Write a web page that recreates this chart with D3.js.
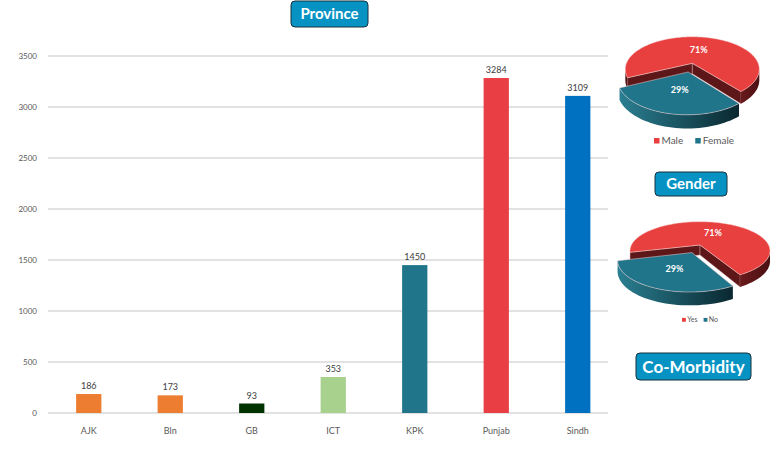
<!DOCTYPE html>
<html>
<head>
<meta charset="utf-8">
<script src="https://cdn.jsdelivr.net/npm/d3@7"></script>
<style>
  body { margin: 0; background: #fff; }
  svg { display: block; font-family: Lato, "Open Sans", sans-serif; }
</style>
</head>
<body>
<svg id="chart" width="781" height="451"></svg>
<script>
// data
const provinces = ["AJK", "Bln", "GB", "ICT", "KPK", "Punjab", "Sindh"];
const cases = [186, 173, 93, 353, 1450, 3284, 3109];
const barColors = ["#ED7D31", "#ED7D31", "#013301", "#A9D18E", "#21758B", "#E93E44", "#0070C0"];
const yTicks = [0, 500, 1000, 1500, 2000, 2500, 3000, 3500];

const genderLabels = ["Male", "Female"];
const genderShares = [71, 29];
const comorbLabels = ["Yes", "No"];
const comorbShares = [71, 29];
const pieColors = ["#E8403F", "#21758B"];

let svg = d3.select("#chart");
let defs = svg.append("defs");

// ---- bar chart ----
let x = d3.scaleBand()
    .domain(provinces)
    .range([48, 618.5])
    .paddingInner(0.69)
    .paddingOuter(0.345);
let y = d3.scaleLinear()
    .domain([0, 3500])
    .range([413, 56]);

svg.append("g")
    .selectAll("line")
    .data(yTicks)
    .enter().append("line")
    .attr("x1", 48)
    .attr("x2", 608)
    .attr("y1", d => y(d))
    .attr("y2", d => y(d))
    .attr("stroke", "#d9d9d9")
    .attr("stroke-width", 1.3);

svg.append("g")
    .selectAll("text")
    .data(yTicks)
    .enter().append("text")
    .attr("x", 37)
    .attr("y", d => y(d))
    .attr("dy", "0.35em")
    .attr("text-anchor", "end")
    .attr("font-size", 8)
    .attr("fill", "#595959")
    .text(d => d);

let bar = svg.selectAll(".bar")
    .data(provinces)
    .enter().append("g")
    .attr("class", "bar");
bar.append("rect")
    .attr("x", d => x(d))
    .attr("y", (d, i) => y(cases[i]))
    .attr("width", x.bandwidth())
    .attr("height", (d, i) => y(0) - y(cases[i]))
    .attr("fill", (d, i) => barColors[i]);
bar.append("text")
    .attr("x", d => x(d) + x.bandwidth() / 2)
    .attr("y", (d, i) => y(cases[i]) - 5)
    .attr("text-anchor", "middle")
    .attr("font-size", 9)
    .attr("fill", "#404040")
    .text((d, i) => cases[i]);
bar.append("text")
    .attr("x", d => x(d) + x.bandwidth() / 2)
    .attr("y", 434)
    .attr("text-anchor", "middle")
    .attr("font-size", 9)
    .attr("fill", "#595959")
    .text(d => d);

// ---- title boxes ----
function titleBox(label, bx, by, bw, bh, size) {
    let g = svg.append("g");
    g.append("rect")
        .attr("x", bx).attr("y", by)
        .attr("width", bw).attr("height", bh)
        .attr("rx", 4)
        .attr("fill", "#0693C4")
        .attr("stroke", "#17323d")
        .attr("stroke-width", 1);
    g.append("text")
        .attr("x", bx + bw / 2)
        .attr("y", by + bh / 2)
        .attr("dy", "0.36em")
        .attr("text-anchor", "middle")
        .attr("font-size", size)
        .attr("font-weight", "bold")
        .attr("fill", "#fff")
        .text(label);
}
titleBox("Province", 291, 1, 77, 26, 15);
titleBox("Gender", 655, 172, 72, 24, 15);
titleBox("Co-Morbidity", 636, 353, 115, 27, 17);

// ---- 3D pies (simple perspective: near side drawn larger) ----
function sideGradient(id, from, to) {
    let lg = defs.append("linearGradient").attr("id", id)
        .attr("x1", "0%").attr("x2", "100%").attr("y1", "0%").attr("y2", "0%");
    lg.append("stop").attr("offset", "0%").attr("stop-color", from);
    lg.append("stop").attr("offset", "100%").attr("stop-color", to);
    return "url(#" + id + ")";
}

function drawPie3D(id, values, o) {
    let g = svg.append("g");
    let arcs = d3.pie().sort(null)
        .startAngle(o.start)
        .endAngle(o.start + 2 * Math.PI)(values);
    let line = d3.line();
    let wallFill = [
        sideGradient(id + "w0", "#6a1a1c", "#4a1012"),
        sideGradient(id + "w1", "#2a7f92", "#0a2830")
    ];
    let cutFill = ["#5e1719", "#123d48"];
    // silhouette of the rim
    let sil = Math.acos(-o.k);

    // u, v on the unit disc (v toward viewer), h = 0 top or 1 bottom
    function proj(u, v, h) {
        let w = 1 - o.k * v;
        return [o.cx + o.sx * u / w, o.cy + (o.sy * v + h * o.depth) / w];
    }
    function rim(a, off, h) {
        return proj(off[0] + Math.sin(a), off[1] - Math.cos(a), h);
    }

    function drawSlice(d, i) {
        let mid = (d.startAngle + d.endAngle) / 2;
        let e = i === o.explode ? o.explodeBy : 0;
        let off = [e * Math.sin(mid), -e * Math.cos(mid)];
        let apexTop = proj(off[0], off[1], 0);
        let apexBot = proj(off[0], off[1], 1);
        // cut faces
        [[d.startAngle, d.startAngle - Math.PI / 2], [d.endAngle, d.endAngle + Math.PI / 2]]
            .forEach(([a, n]) => {
                if (-Math.cos(n) <= 0) return;
                g.append("path")
                    .attr("d", line([apexTop, rim(a, off, 0), rim(a, off, 1), apexBot]) + "Z")
                    .attr("fill", cutFill[i])
                    .attr("stroke", "#e9b9b9")
                    .attr("stroke-width", 0.4);
            });
        // outer wall, visible part only
        for (let k = 0; k < 3; k++) {
            let s = Math.max(d.startAngle, sil + 2 * Math.PI * k);
            let t = Math.min(d.endAngle, 2 * Math.PI - sil + 2 * Math.PI * k);
            if (t <= s) continue;
            let angles = d3.range(0, 41).map(j => s + (t - s) * j / 40);
            let pts = angles.map(a => rim(a, off, 0))
                .concat(angles.slice().reverse().map(a => rim(a, off, 1)));
            g.append("path")
                .attr("d", line(pts) + "Z")
                .attr("fill", wallFill[i]);
        }
        // top face
        let n = Math.max(8, Math.round((d.endAngle - d.startAngle) / 0.03));
        let top = [apexTop].concat(d3.range(0, n + 1)
            .map(j => rim(d.startAngle + (d.endAngle - d.startAngle) * j / n, off, 0)));
        g.append("path")
            .attr("d", line(top) + "Z")
            .attr("fill", pieColors[i])
            .attr("stroke", "#f4d0d0")
            .attr("stroke-width", 0.5);
        let lp = proj(off[0] + o.labelR * Math.sin(mid), off[1] - o.labelR * Math.cos(mid), 0);
        g.append("text")
            .attr("x", lp[0])
            .attr("y", lp[1])
            .attr("dy", "0.35em")
            .attr("text-anchor", "middle")
            .attr("font-size", 9)
            .attr("font-weight", "bold")
            .attr("fill", "#fff")
            .text(d.data + "%");
    }

    arcs.forEach((d, i) => { if (i !== o.explode) drawSlice(d, i); });
    drawSlice(arcs[o.explode], o.explode);
}

function legend(labels, lx, ly, size, gap) {
    let g = svg.append("g");
    let cx = lx;
    labels.forEach((l, i) => {
        g.append("rect")
            .attr("x", cx).attr("y", ly - size * 0.3)
            .attr("width", size * 0.55).attr("height", size * 0.55)
            .attr("fill", pieColors[i]);
        let t = g.append("text")
            .attr("x", cx + size * 0.75)
            .attr("y", ly)
            .attr("dy", "0.3em")
            .attr("font-size", size)
            .attr("fill", "#595959")
            .text(l);
        cx += size * 0.75 + t.node().getComputedTextLength() + gap;
    });
}

drawPie3D("gender", genderShares, {
    cx: 692.3, cy: 63.3, sx: 65.9, sy: 31.4, k: 0.182, depth: 10.5,
    start: 245 * Math.PI / 180, explode: 1, explodeBy: 0.27, labelR: 0.48
});
legend(genderLabels, 654, 141, 10, 12);

drawPie3D("comorb", comorbShares, {
    cx: 700, cy: 245, sx: 68.6, sy: 28, k: 0.2, depth: 10,
    start: 255.6 * Math.PI / 180, explode: 1, explodeBy: 0.28, labelR: 0.52
});
legend(comorbLabels, 682, 320, 7, 6);
</script>
</body>
</html>
